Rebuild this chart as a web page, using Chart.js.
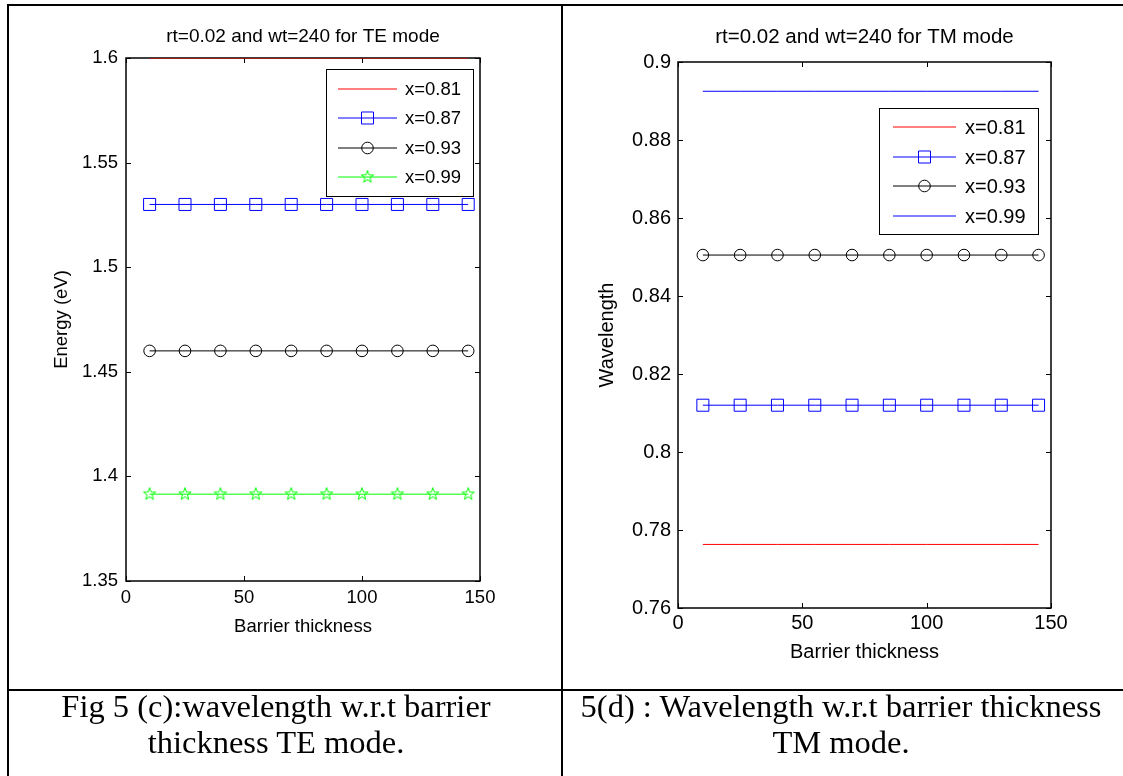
<!DOCTYPE html>
<html>
<head>
<meta charset="utf-8">
<script src="https://cdn.jsdelivr.net/npm/chart.js@4.4.0/dist/chart.umd.min.js"></script>
<style>
  html, body { margin: 0; padding: 0; background: #fff; }
  body { width: 1123px; height: 776px; position: relative; overflow: hidden; }
  .ln { position: absolute; background: #000; }
  .box { position: absolute; }
  .cap { position: absolute; font-family: "Liberation Serif", "Times New Roman", serif;
         font-size: 32.5px; line-height: 36px; text-align: center; color: #000; }
</style>
</head>
<body>
<div class="ln" style="left:7px;top:4px;width:1116px;height:2px"></div>
<div class="ln" style="left:7px;top:4px;width:2px;height:772px"></div>
<div class="ln" style="left:561px;top:4px;width:2px;height:772px"></div>
<div class="ln" style="left:7px;top:689px;width:1116px;height:2px"></div>

<div class="box" style="left:9px;top:6px;width:552px;height:683px"><canvas id="chartTE"></canvas></div>
<div class="box" style="left:563px;top:6px;width:560px;height:683px"><canvas id="chartTM"></canvas></div>

<div class="cap" style="left:0px;top:688px;width:552px">Fig 5 (c):wavelength w.r.t barrier<br>thickness TE mode.</div>
<div class="cap" style="left:563px;top:688px;width:556px">5(d) : Wavelength w.r.t barrier thickness<br>TM mode.</div>

<script>
// barrier thickness values (x)
const thickness = [10, 25, 40, 55, 70, 85, 100, 115, 130, 145];
const seriesNames = ['x=0.81', 'x=0.87', 'x=0.93', 'x=0.99'];

// TE mode, energy (eV)
const te081 = [1.6, 1.6, 1.6, 1.6, 1.6, 1.6, 1.6, 1.6, 1.6, 1.6];
const te087 = [1.53, 1.53, 1.53, 1.53, 1.53, 1.53, 1.53, 1.53, 1.53, 1.53];
const te093 = [1.46, 1.46, 1.46, 1.46, 1.46, 1.46, 1.46, 1.46, 1.46, 1.46];
const te099 = [1.3915, 1.3915, 1.3915, 1.3915, 1.3915, 1.3915, 1.3915, 1.3915, 1.3915, 1.3915];

// TM mode, wavelength
const tm081 = [0.7763, 0.7763, 0.7763, 0.7763, 0.7763, 0.7763, 0.7763, 0.7763, 0.7763, 0.7763];
const tm087 = [0.812, 0.812, 0.812, 0.812, 0.812, 0.812, 0.812, 0.812, 0.812, 0.812];
const tm093 = [0.8505, 0.8505, 0.8505, 0.8505, 0.8505, 0.8505, 0.8505, 0.8505, 0.8505, 0.8505];
const tm099 = [0.8925, 0.8925, 0.8925, 0.8925, 0.8925, 0.8925, 0.8925, 0.8925, 0.8925, 0.8925];

const xTicks = [0, 50, 100, 150];
const yTicksTE = [1.35, 1.4, 1.45, 1.5, 1.55, 1.6];
const yTicksTM = [0.76, 0.78, 0.8, 0.82, 0.84, 0.86, 0.88, 0.9];

const FONT = 'Liberation Sans, Arial, Helvetica, sans-serif';

// matlab style pentagram marker
function pentagram(color, r) {
  const c = document.createElement('canvas');
  const s = Math.ceil(r * 2 + 3);
  c.width = s; c.height = s;
  const g = c.getContext('2d');
  g.strokeStyle = color;
  g.lineWidth = 1;
  g.beginPath();
  for (let k = 0; k < 10; k++) {
    const ang = -Math.PI / 2 + k * Math.PI / 5;
    const rr = k % 2 === 0 ? r : r * 0.4;
    const px = s / 2 + rr * Math.cos(ang), py = s / 2 + rr * Math.sin(ang);
    if (k === 0) g.moveTo(px, py); else g.lineTo(px, py);
  }
  g.closePath();
  g.stroke();
  return c;
}
const star = pentagram('#00ff00', 6.5);

function pts(ys) {
  return thickness.map((x, i) => ({x: x, y: ys[i]}));
}

function drawMarker(ctx, ds, x, y) {
  const st = ds.pointStyle, r = ds.pointRadius;
  if (!r) return;
  ctx.save();
  ctx.strokeStyle = ds.borderColor;
  ctx.lineWidth = 1;
  ctx.beginPath();
  if (st === 'rect') {
    const h = r * Math.SQRT1_2;
    ctx.rect(x - h, y - h, 2 * h, 2 * h);
    ctx.stroke();
  } else if (st === 'circle') {
    ctx.arc(x, y, r, 0, Math.PI * 2);
    ctx.stroke();
  } else if (st instanceof HTMLCanvasElement) {
    ctx.drawImage(st, x - st.width / 2, y - st.height / 2);
  }
  ctx.restore();
}

// box, inward ticks, title and legend like the matlab figure
const matlabBox = {
  id: 'matlabBox',
  beforeDatasetsDraw(chart, args, o) {
    const {ctx, chartArea: a, scales} = chart;
    ctx.save();
    ctx.strokeStyle = '#000';
    ctx.lineWidth = 1.5;
    ctx.strokeRect(a.left, a.top, a.right - a.left, a.bottom - a.top);
    ctx.lineWidth = 1;
    ctx.beginPath();
    scales.x.ticks.forEach(t => {
      const px = Math.round(scales.x.getPixelForValue(t.value)) + 0.5;
      ctx.moveTo(px, a.bottom); ctx.lineTo(px, a.bottom - 5);
      ctx.moveTo(px, a.top); ctx.lineTo(px, a.top + 5);
    });
    scales.y.ticks.forEach(t => {
      const py = Math.round(scales.y.getPixelForValue(t.value)) + 0.5;
      ctx.moveTo(a.left, py); ctx.lineTo(a.left + 5, py);
      ctx.moveTo(a.right, py); ctx.lineTo(a.right - 5, py);
    });
    ctx.stroke();
    ctx.fillStyle = '#000';
    ctx.font = o.titleSize + 'px ' + FONT;
    ctx.textAlign = 'center';
    ctx.textBaseline = 'alphabetic';
    ctx.fillText(o.title, (a.left + a.right) / 2, o.titleY);
    ctx.restore();
  },
  afterDatasetsDraw(chart, args, o) {
    const {ctx, chartArea: a} = chart;
    const lg = o.legend;
    const x0 = Math.round(a.right - lg.right - lg.w), y0 = Math.round(a.top + lg.top);
    ctx.save();
    ctx.fillStyle = '#fff';
    ctx.fillRect(x0, y0, lg.w, lg.h);
    ctx.strokeStyle = '#000';
    ctx.lineWidth = 1;
    ctx.strokeRect(x0 + 0.5, y0 + 0.5, lg.w, lg.h);
    ctx.font = o.fontSize + 'px ' + FONT;
    ctx.textBaseline = 'middle';
    ctx.textAlign = 'left';
    chart.data.datasets.forEach((ds, i) => {
      const y = Math.round(y0 + lg.first + i * lg.step);
      ctx.strokeStyle = ds.borderColor;
      ctx.lineWidth = ds.borderWidth;
      ctx.beginPath();
      ctx.moveTo(x0 + lg.l1, y);
      ctx.lineTo(x0 + lg.l2, y);
      ctx.stroke();
      drawMarker(ctx, ds, x0 + (lg.l1 + lg.l2) / 2, y);
      ctx.fillStyle = '#000';
      ctx.fillText(ds.label, x0 + lg.tx, y + 1);
    });
    ctx.restore();
  }
};

function makeChart(id, datasets, c) {
  return new Chart(document.getElementById(id), {
    type: 'line',
    data: {datasets: datasets},
    plugins: [matlabBox],
    options: {
      responsive: true,
      maintainAspectRatio: false,
      animation: false,
      layout: {padding: {left: 10, top: c.top, right: c.right, bottom: c.bottom}},
      plugins: {
        legend: {display: false},
        tooltip: {enabled: false},
        title: {display: false},
        matlabBox: {title: c.title, titleY: c.titleY, titleSize: c.ts, fontSize: c.fs, legend: c.legend}
      },
      scales: {
        x: {
          type: 'linear', min: 0, max: 150,
          afterBuildTicks: s => { s.ticks = xTicks.map(v => ({value: v})); },
          afterFit: s => { s.height = c.xHeight; },
          grid: {display: false, drawTicks: false},
          border: {display: false},
          ticks: {color: '#000', font: {family: FONT, size: c.fs}, padding: c.xPad, maxRotation: 0, autoSkip: false},
          title: {display: true, text: 'Barrier thickness', color: '#000',
                  font: {family: FONT, size: c.fs}, padding: {top: 0, bottom: c.xTitlePad}}
        },
        y: {
          type: 'linear', min: c.yTicks[0], max: c.yTicks[c.yTicks.length - 1],
          afterBuildTicks: s => { s.ticks = c.yTicks.map(v => ({value: v})); },
          afterFit: s => { s.width = c.yWidth; },
          grid: {display: false, drawTicks: false},
          border: {display: false},
          ticks: {color: '#000', font: {family: FONT, size: c.fs}, padding: c.yPad, autoSkip: false,
                  callback: v => String(+v.toFixed(2))},
          title: {display: true, text: c.yTitle, color: '#000',
                  font: {family: FONT, size: c.fs}, padding: {top: c.yTitlePad, bottom: 0}}
        }
      }
    }
  });
}

function series(label, ys, color, style, radius) {
  return {
    label: label, data: pts(ys),
    borderColor: color, backgroundColor: 'rgba(0,0,0,0)', borderWidth: 1,
    pointStyle: style, pointRadius: radius, pointBorderWidth: 1,
    pointBorderColor: color, pointBackgroundColor: 'rgba(0,0,0,0)',
    pointHoverRadius: radius, tension: 0
  };
}

makeChart('chartTE', [
  series(seriesNames[0], te081, '#ff0000', 'circle', 0),
  series(seriesNames[1], te087, '#0000ff', 'rect', 8.5),
  series(seriesNames[2], te093, '#000000', 'circle', 5.8),
  series(seriesNames[3], te099, '#00ff00', star, 6)
], {
  title: 'rt=0.02 and wt=240 for TE mode', titleY: 36, fs: 18.5, ts: 19,
  top: 52, right: 81, bottom: 48, yWidth: 107, xHeight: 60,
  xPad: 6, xTitlePad: 3, yPad: 8, yTitlePad: 32,
  yTicks: yTicksTE, yTitle: 'Energy (eV)',
  legend: {w: 147, h: 127, right: 7, top: 11, first: 19.5, step: 29.5, l1: 12, l2: 71, tx: 79}
});

makeChart('chartTM', [
  series(seriesNames[0], tm081, '#ff0000', 'circle', 0),
  series(seriesNames[1], tm087, '#0000ff', 'rect', 8.5),
  series(seriesNames[2], tm093, '#000000', 'circle', 5.8),
  series(seriesNames[3], tm099, '#0000ff', 'circle', 0)
], {
  title: 'rt=0.02 and wt=240 for TM mode', titleY: 36.5, fs: 20, ts: 20.5,
  top: 56, right: 72, bottom: 15, yWidth: 105, xHeight: 66,
  xPad: 3, xTitlePad: 10, yPad: 7, yTitlePad: 22,
  yTicks: yTicksTM, yTitle: 'Wavelength',
  legend: {w: 159, h: 126, right: 13, top: 46, first: 19, step: 29.5, l1: 14, l2: 77, tx: 86}
});
</script>
</body>
</html>
